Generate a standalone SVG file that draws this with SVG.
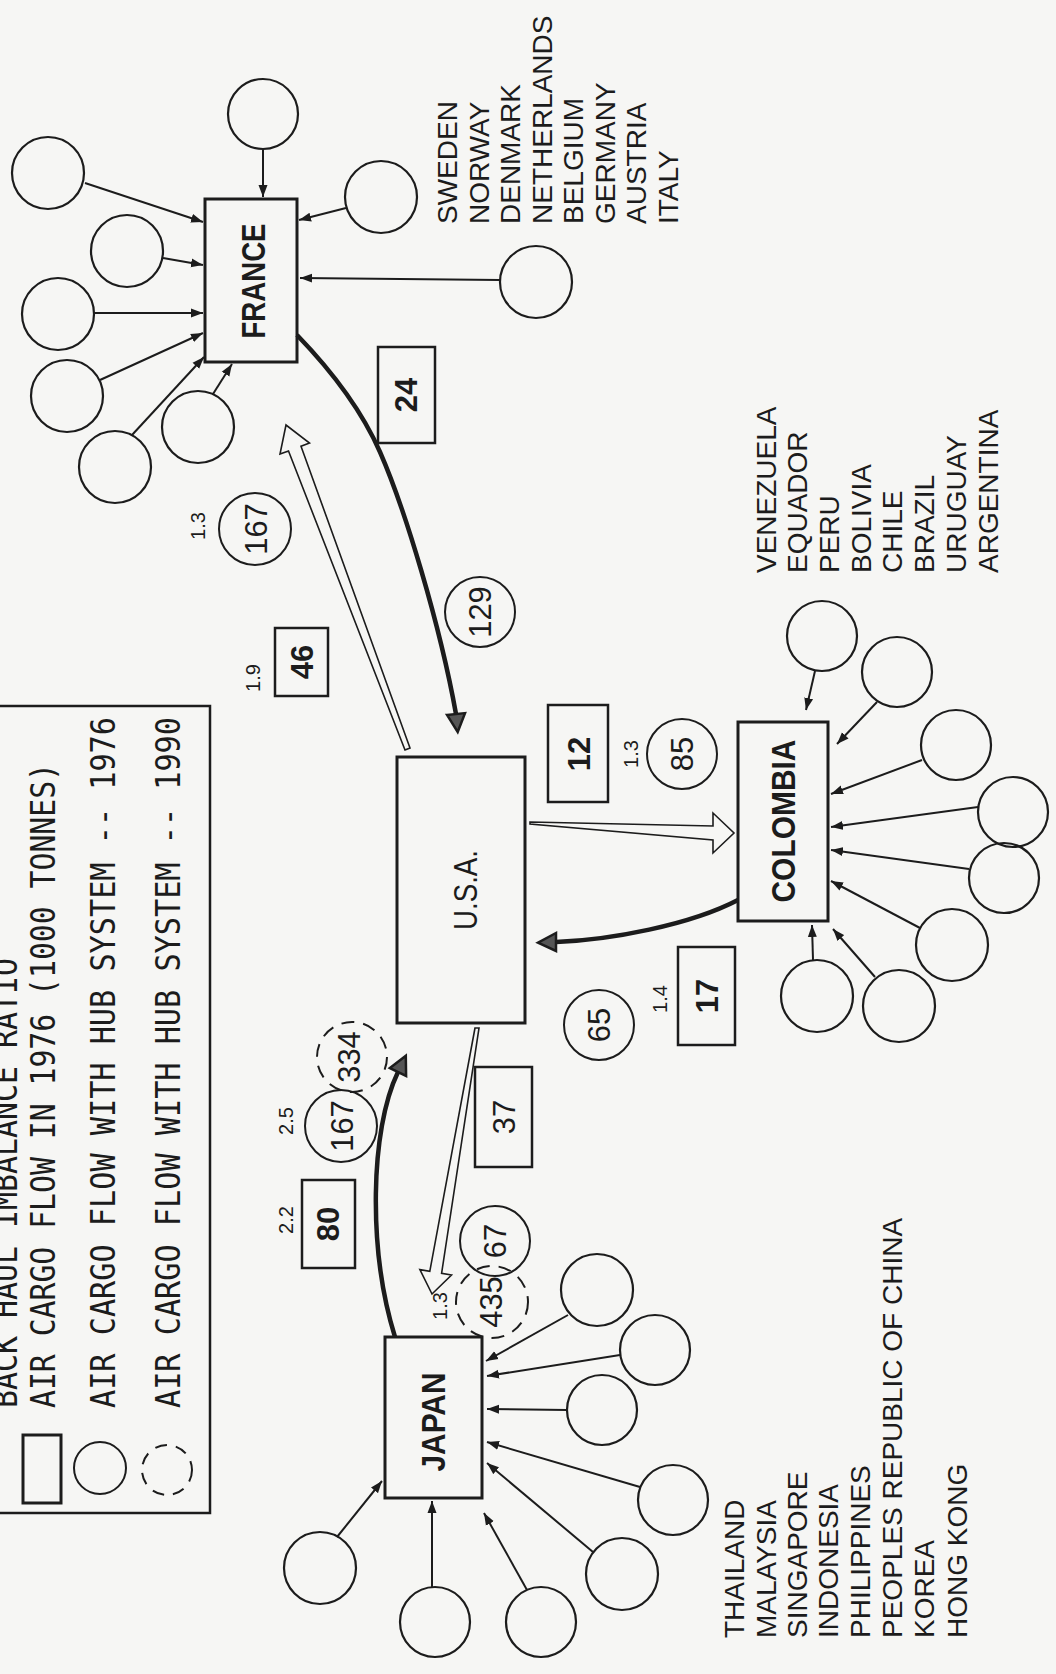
<svg xmlns="http://www.w3.org/2000/svg" width="1056" height="1674" viewBox="0 0 1056 1674">
<style>
.bg{fill:#f6f6f4}
.ln{stroke:#1c1c1c;stroke-width:2;fill:none}
.sat{stroke:#1c1c1c;stroke-width:2.2;fill:none}
.box{stroke:#1c1c1c;stroke-width:2.5;fill:none}
.hbox{stroke:#1c1c1c;stroke-width:3;fill:none}
.thick{stroke:#1c1c1c;stroke-width:4.5;fill:none}
.hollow{stroke:#1c1c1c;stroke-width:1.6;fill:#f6f6f4;stroke-linejoin:miter}
.head{fill:#555;stroke:#1c1c1c;stroke-width:2.5;stroke-linejoin:miter}
.dash{stroke:#1c1c1c;stroke-width:2;fill:none;stroke-dasharray:13 9}
text{fill:#1c1c1c}
.lst{font-family:"Liberation Sans",Arial,sans-serif;font-size:28px}
.hub{font-family:"Liberation Sans",Arial,sans-serif;font-weight:bold;font-size:34px}
.usa{font-family:"Liberation Sans",Arial,sans-serif;font-size:33px}
.num{font-family:"Liberation Sans",Arial,sans-serif;font-size:31px}
.bnum{font-family:"Liberation Sans",Arial,sans-serif;font-size:31px;font-weight:bold}
.sm{font-family:"Liberation Sans",Arial,sans-serif;font-size:20px}
.leg{font-family:"DejaVu Sans Mono","Liberation Mono",monospace;font-size:34px}
</style>
<defs>
<marker id="ah" markerUnits="userSpaceOnUse" markerWidth="13" markerHeight="10" refX="12" refY="5" orient="auto">
<path d="M0,0.5 L12,5 L0,9.5 z" fill="#1c1c1c"/>
</marker>
</defs>
<rect class="bg" x="0" y="0" width="1056" height="1674"/>

<g id="legend">
<rect class="box" x="-20" y="706" width="230" height="807"/>
<text class="leg" transform="translate(17,1408) rotate(-90)" textLength="450" lengthAdjust="spacingAndGlyphs">BACK HAUL IMBALANCE RATIO</text>
<rect x="23" y="1435" width="38" height="68" fill="none" stroke="#1c1c1c" stroke-width="3"/>
<text class="leg" transform="translate(55,1408) rotate(-90)" textLength="645" lengthAdjust="spacingAndGlyphs">AIR CARGO FLOW IN 1976 (1000 TONNES)</text>
<circle class="ln" cx="100" cy="1468" r="26"/>
<text class="leg" transform="translate(115,1408) rotate(-90)" textLength="691" lengthAdjust="spacingAndGlyphs">AIR CARGO FLOW WITH HUB SYSTEM -- 1976</text>
<circle cx="167" cy="1470" r="25" fill="none" stroke="#1c1c1c" stroke-width="2" stroke-dasharray="12 9"/>
<text class="leg" transform="translate(180,1408) rotate(-90)" textLength="691" lengthAdjust="spacingAndGlyphs">AIR CARGO FLOW WITH HUB SYSTEM -- 1990</text>
</g>

<g id="france">
<rect class="hbox" x="205" y="199" width="92" height="163"/>
<text class="hub" transform="translate(265,281) rotate(-90)" text-anchor="middle" textLength="115" lengthAdjust="spacingAndGlyphs">FRANCE</text>
</g>
<g id="usa">
<rect class="hbox" x="397" y="757" width="128" height="266"/>
<text class="usa" transform="translate(477,890) rotate(-90)" text-anchor="middle" textLength="80" lengthAdjust="spacingAndGlyphs">U.S.A.</text>
</g>
<g id="colombia">
<rect class="hbox" x="738" y="722" width="90" height="199"/>
<text class="hub" transform="translate(795,821) rotate(-90)" text-anchor="middle" textLength="163" lengthAdjust="spacingAndGlyphs">COLOMBIA</text>
</g>
<g id="japan">
<rect class="hbox" x="385" y="1337" width="97" height="161"/>
<text class="hub" transform="translate(445,1422) rotate(-90)" text-anchor="middle" textLength="99" lengthAdjust="spacingAndGlyphs">JAPAN</text>
</g>

<g id="france-satellites">
<circle class="sat" cx="263" cy="114" r="35"/>
<circle class="sat" cx="48" cy="173" r="36"/>
<circle class="sat" cx="127" cy="251" r="36"/>
<circle class="sat" cx="58" cy="314" r="36"/>
<circle class="sat" cx="67" cy="396" r="36"/>
<circle class="sat" cx="115" cy="467" r="36"/>
<circle class="sat" cx="198" cy="427" r="36"/>
<circle class="sat" cx="381" cy="197" r="36"/>
<circle class="sat" cx="536" cy="282" r="36"/>
</g>
<g id="colombia-satellites">
<circle class="sat" cx="822" cy="636" r="35"/>
<circle class="sat" cx="897" cy="672" r="35"/>
<circle class="sat" cx="956" cy="745" r="35"/>
<circle class="sat" cx="1013" cy="812" r="35"/>
<circle class="sat" cx="1004" cy="878" r="35"/>
<circle class="sat" cx="952" cy="945" r="36"/>
<circle class="sat" cx="899" cy="1006" r="36"/>
<circle class="sat" cx="817" cy="996" r="36"/>
</g>
<g id="japan-satellites">
<circle class="sat" cx="597" cy="1290" r="36"/>
<circle class="sat" cx="655" cy="1350" r="35"/>
<circle class="sat" cx="602" cy="1410" r="35"/>
<circle class="sat" cx="673" cy="1500" r="35"/>
<circle class="sat" cx="622" cy="1574" r="36"/>
<circle class="sat" cx="541" cy="1622" r="35"/>
<circle class="sat" cx="435" cy="1622" r="35"/>
<circle class="sat" cx="320" cy="1568" r="36"/>
</g>

<g id="connectors">
<line class="ln" x1="263" y1="149" x2="263" y2="197" marker-end="url(#ah)"/>
<line class="ln" x1="85" y1="183" x2="203" y2="222" marker-end="url(#ah)"/>
<line class="ln" x1="163" y1="258" x2="203" y2="265" marker-end="url(#ah)"/>
<line class="ln" x1="94" y1="313" x2="203" y2="313" marker-end="url(#ah)"/>
<line class="ln" x1="100" y1="380" x2="203" y2="333" marker-end="url(#ah)"/>
<line class="ln" x1="132" y1="435" x2="204" y2="357" marker-end="url(#ah)"/>
<line class="ln" x1="213" y1="394" x2="232" y2="364" marker-end="url(#ah)"/>
<line class="ln" x1="346" y1="208" x2="299" y2="220" marker-end="url(#ah)"/>
<line class="ln" x1="500" y1="280" x2="300" y2="278" marker-end="url(#ah)"/>

<line class="ln" x1="815" y1="671" x2="806" y2="710" marker-end="url(#ah)"/>
<line class="ln" x1="877" y1="702" x2="837" y2="744" marker-end="url(#ah)"/>
<line class="ln" x1="922" y1="760" x2="831" y2="794" marker-end="url(#ah)"/>
<line class="ln" x1="978" y1="807" x2="831" y2="827" marker-end="url(#ah)"/>
<line class="ln" x1="969" y1="869" x2="831" y2="850" marker-end="url(#ah)"/>
<line class="ln" x1="920" y1="928" x2="831" y2="881" marker-end="url(#ah)"/>
<line class="ln" x1="875" y1="977" x2="833" y2="929" marker-end="url(#ah)"/>
<line class="ln" x1="813" y1="960" x2="812" y2="925" marker-end="url(#ah)"/>

<line class="ln" x1="568" y1="1315" x2="486" y2="1361" marker-end="url(#ah)"/>
<line class="ln" x1="620" y1="1355" x2="487" y2="1376" marker-end="url(#ah)"/>
<line class="ln" x1="567" y1="1410" x2="487" y2="1409" marker-end="url(#ah)"/>
<line class="ln" x1="640" y1="1487" x2="487" y2="1442" marker-end="url(#ah)"/>
<line class="ln" x1="593" y1="1552" x2="487" y2="1463" marker-end="url(#ah)"/>
<line class="ln" x1="527" y1="1590" x2="484" y2="1513" marker-end="url(#ah)"/>
<line class="ln" x1="432" y1="1587" x2="432" y2="1501" marker-end="url(#ah)"/>
<line class="ln" x1="337" y1="1537" x2="382" y2="1481" marker-end="url(#ah)"/>

<path class="thick" d="M297,335 Q355,395 380,452 C405,509 440,625 456,714"/>
<polygon class="head" points="447,714.9 465,713.1 457.7,731.9"/>
<path class="thick" d="M738,900 C690,925 610,940 556,942"/>
<polygon class="head" points="556,933 556,951 538,942.7"/>
<path class="thick" d="M395,1337 C368,1250 370,1130 398,1072"/>
<polygon class="head" points="389.9,1068.1 406.1,1075.9 405.8,1055.8"/>

<polygon class="hollow" points="405,750 288.5,451 280,454 286,425 309.5,443 301,446.3 410,748"/>
<polygon class="hollow" points="530,822 713,826 713,813 734,833 713,853 713,840 530,824"/>
<polygon class="hollow" points="475,1028 429.8,1271.3 419.9,1269.6 432,1294 451.5,1275 441.6,1273.3 479,1028"/>
</g>

<g id="labels">
<rect class="box" x="378" y="347" width="57" height="96"/>
<text class="bnum" transform="translate(417,395) rotate(-90)" text-anchor="middle">24</text>
<circle class="ln" cx="480" cy="612" r="35"/>
<text class="num" transform="translate(491,612) rotate(-90)" text-anchor="middle">129</text>
<circle class="ln" cx="255" cy="529" r="36"/>
<text class="num" transform="translate(267,529) rotate(-90)" text-anchor="middle">167</text>
<text class="sm" transform="translate(205,526) rotate(-90)" text-anchor="middle">1.3</text>
<rect class="box" x="275" y="628" width="53" height="68"/>
<text class="bnum" transform="translate(313,662) rotate(-90)" text-anchor="middle">46</text>
<text class="sm" transform="translate(260,678) rotate(-90)" text-anchor="middle">1.9</text>

<rect class="box" x="548" y="705" width="60" height="97"/>
<text class="bnum" transform="translate(590,754) rotate(-90)" text-anchor="middle">12</text>
<text class="sm" transform="translate(638,754) rotate(-90)" text-anchor="middle">1.3</text>
<circle class="ln" cx="682" cy="754" r="35"/>
<text class="num" transform="translate(693,754) rotate(-90)" text-anchor="middle">85</text>

<rect class="box" x="678" y="947" width="57" height="98"/>
<text class="bnum" transform="translate(718,996) rotate(-90)" text-anchor="middle">17</text>
<text class="sm" transform="translate(667,999) rotate(-90)" text-anchor="middle">1.4</text>
<circle class="ln" cx="599" cy="1025" r="35"/>
<text class="num" transform="translate(610,1025) rotate(-90)" text-anchor="middle">65</text>

<rect class="box" x="475" y="1067" width="57" height="100"/>
<text class="num" transform="translate(515,1117) rotate(-90)" text-anchor="middle">37</text>
<circle class="ln" cx="495" cy="1241" r="35"/>
<text class="num" transform="translate(506,1241) rotate(-90)" text-anchor="middle">67</text>
<circle class="dash" cx="492" cy="1302" r="36"/>
<text class="num" transform="translate(502,1302) rotate(-90)" text-anchor="middle">435</text>
<text class="sm" transform="translate(447,1306) rotate(-90)" text-anchor="middle">1.3</text>

<rect class="box" x="302" y="1180" width="53" height="88"/>
<text class="bnum" transform="translate(339,1224) rotate(-90)" text-anchor="middle">80</text>
<text class="sm" transform="translate(293,1220) rotate(-90)" text-anchor="middle">2.2</text>
<circle class="ln" cx="341" cy="1126" r="36"/>
<text class="num" transform="translate(353,1126) rotate(-90)" text-anchor="middle">167</text>
<circle class="dash" cx="352" cy="1057" r="35"/>
<text class="num" transform="translate(360,1057) rotate(-90)" text-anchor="middle">334</text>
<text class="sm" transform="translate(293,1121) rotate(-90)" text-anchor="middle">2.5</text>
</g>

<g id="france-list">
<text class="lst" transform="translate(457,224) rotate(-90)">SWEDEN</text>
<text class="lst" transform="translate(488.5,224) rotate(-90)">NORWAY</text>
<text class="lst" transform="translate(520,224) rotate(-90)">DENMARK</text>
<text class="lst" transform="translate(551.5,224) rotate(-90)">NETHERLANDS</text>
<text class="lst" transform="translate(583,224) rotate(-90)">BELGIUM</text>
<text class="lst" transform="translate(614.5,224) rotate(-90)">GERMANY</text>
<text class="lst" transform="translate(646,224) rotate(-90)">AUSTRIA</text>
<text class="lst" transform="translate(677.5,224) rotate(-90)">ITALY</text>
</g>
<g id="colombia-list">
<text class="lst" transform="translate(776,573) rotate(-90)">VENEZUELA</text>
<text class="lst" transform="translate(807,573) rotate(-90)">EQUADOR</text>
<text class="lst" transform="translate(839,573) rotate(-90)">PERU</text>
<text class="lst" transform="translate(871,573) rotate(-90)">BOLIVIA</text>
<text class="lst" transform="translate(902,573) rotate(-90)">CHILE</text>
<text class="lst" transform="translate(934,573) rotate(-90)">BRAZIL</text>
<text class="lst" transform="translate(966,573) rotate(-90)">URUGUAY</text>
<text class="lst" transform="translate(998,573) rotate(-90)">ARGENTINA</text>
</g>
<g id="japan-list">
<text class="lst" transform="translate(744,1638) rotate(-90)">THAILAND</text>
<text class="lst" transform="translate(776,1638) rotate(-90)">MALAYSIA</text>
<text class="lst" transform="translate(807,1638) rotate(-90)">SINGAPORE</text>
<text class="lst" transform="translate(838,1638) rotate(-90)">INDONESIA</text>
<text class="lst" transform="translate(870,1638) rotate(-90)">PHILIPPINES</text>
<text class="lst" transform="translate(902,1638) rotate(-90)">PEOPLES REPUBLIC OF CHINA</text>
<text class="lst" transform="translate(934,1638) rotate(-90)">KOREA</text>
<text class="lst" transform="translate(967,1638) rotate(-90)">HONG KONG</text>
</g>
</svg>
